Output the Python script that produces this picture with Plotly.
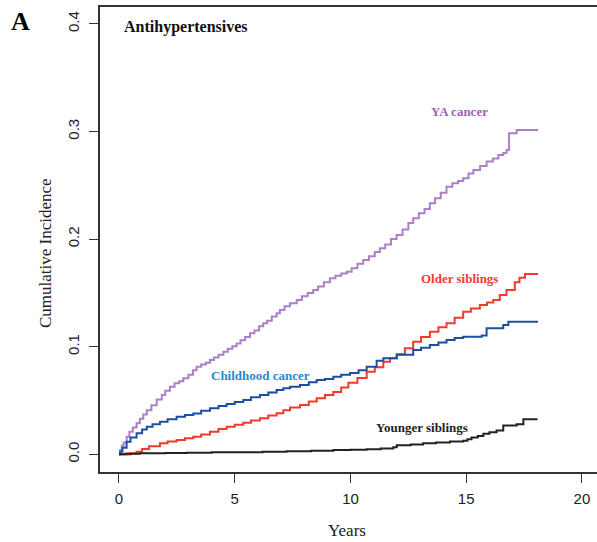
import plotly.graph_objects as go

# Cumulative incidence of antihypertensive use by cohort (step functions)
ya_years = [0, 0.05, 0.12, 0.2, 0.33, 0.45, 0.6, 0.76, 0.9, 1.05, 1.2, 1.4, 1.63, 1.85, 2.0,
            2.2, 2.4, 2.6, 2.78, 3.0, 3.2, 3.35, 3.55, 3.75, 3.93, 4.1, 4.3, 4.51, 4.7, 4.9,
            5.08, 5.25, 5.45, 5.66, 5.85, 6.05, 6.23, 6.4, 6.6, 6.81, 6.95, 7.15, 7.39, 7.68,
            7.9, 8.15, 8.39, 8.6, 8.85, 9.11, 9.35, 9.6, 9.84, 10.05, 10.3, 10.55, 10.8, 11.05,
            11.27, 11.5, 11.75, 11.99, 12.25, 12.5, 12.71, 12.95, 13.2, 13.43, 13.65, 13.9,
            14.15, 14.4, 14.65, 14.87, 15.1, 15.31, 15.6, 15.88, 16.15, 16.39, 16.6, 16.74,
            16.85, 17.18, 18.1]
ya_ci = [0, 0.004, 0.008, 0.011, 0.0164, 0.021, 0.025, 0.0288, 0.033, 0.037, 0.041, 0.0455,
         0.051, 0.055, 0.059, 0.0628, 0.066, 0.068, 0.0706, 0.074, 0.078, 0.0814, 0.0835, 0.085,
         0.0876, 0.09, 0.0925, 0.0954, 0.098, 0.1005, 0.103, 0.106, 0.109, 0.1125, 0.115, 0.119,
         0.1217, 0.124, 0.128, 0.131, 0.134, 0.1375, 0.1403, 0.1434, 0.147, 0.15, 0.1527, 0.156,
         0.16, 0.1636, 0.166, 0.168, 0.1697, 0.173, 0.177, 0.1806, 0.184, 0.188, 0.1915, 0.195,
         0.2, 0.2038, 0.209, 0.215, 0.2193, 0.224, 0.228, 0.2333, 0.238, 0.243, 0.2487, 0.252,
         0.254, 0.2565, 0.261, 0.2642, 0.268, 0.272, 0.275, 0.2782, 0.28, 0.2829, 0.2983,
         0.3014, 0.3014]

child_years = [0, 0.05, 0.15, 0.33, 0.5, 0.76, 1.0, 1.2, 1.45, 1.77, 2.1, 2.49, 2.85, 3.21,
               3.55, 3.93, 4.3, 4.65, 5.0, 5.37, 5.7, 6.09, 6.45, 6.81, 7.1, 7.39, 7.82, 8.2,
               8.54, 8.9, 9.26, 9.6, 9.98, 10.35, 10.7, 11.13, 11.42, 12.0, 12.71, 13.05, 13.43,
               13.8, 14.15, 14.5, 14.87, 15.67, 15.88, 16.6, 16.82, 18.1]
child_ci = [0, 0.0024, 0.006, 0.0117, 0.0155, 0.0195, 0.023, 0.0257, 0.028, 0.0303, 0.0325,
            0.035, 0.0365, 0.038, 0.0405, 0.0427, 0.045, 0.0467, 0.0485, 0.0505, 0.053, 0.0551,
            0.0575, 0.0598, 0.0613, 0.0628, 0.0644, 0.067, 0.069, 0.07, 0.0721, 0.074, 0.0755,
            0.078, 0.0814, 0.087, 0.0892, 0.0925, 0.097, 0.099, 0.1016, 0.104, 0.1062, 0.108,
            0.1093, 0.1105, 0.1171, 0.1202, 0.1232, 0.1232]

older_years = [0, 0.3, 0.76, 1.0, 1.3, 1.77, 2.1, 2.49, 2.85, 3.21, 3.55, 3.93, 4.3, 4.65, 5.0,
               5.37, 5.7, 6.09, 6.45, 6.81, 7.1, 7.39, 7.82, 8.2, 8.54, 8.9, 9.26, 9.6, 9.91,
               10.3, 10.7, 11.05, 11.42, 11.71, 12.0, 12.35, 12.71, 13.05, 13.43, 13.8, 14.15,
               14.5, 14.87, 15.2, 15.59, 15.9, 16.17, 16.45, 16.74, 17.1, 17.3, 17.54, 18.1]
older_ci = [0, 0.001, 0.0024, 0.005, 0.0075, 0.0102, 0.012, 0.0133, 0.015, 0.0164, 0.0185,
            0.021, 0.0235, 0.0257, 0.0275, 0.0294, 0.0315, 0.0335, 0.036, 0.0381, 0.041, 0.0435,
            0.0458, 0.049, 0.052, 0.055, 0.058, 0.062, 0.0665, 0.071, 0.0768, 0.081, 0.086,
            0.0892, 0.093, 0.0985, 0.1045, 0.109, 0.1139, 0.118, 0.1217, 0.127, 0.1325, 0.1355,
            0.1388, 0.141, 0.1434, 0.148, 0.1527, 0.16, 0.164, 0.1676, 0.1676]

younger_years = [0, 0.5, 0.9, 2.0, 2.92, 4.0, 5.23, 6.2, 7.24, 8.3, 9.26, 10.0, 10.7, 11.3,
                 11.85, 12.0, 12.6, 13.14, 13.7, 14.3, 14.87, 15.05, 15.23, 15.5, 15.74, 16.0,
                 16.31, 16.6, 17.18, 17.47, 18.08]
younger_ci = [0, 0.0005, 0.001, 0.0012, 0.0015, 0.0018, 0.002, 0.0024, 0.0028, 0.0034, 0.004,
              0.0042, 0.0046, 0.0055, 0.0065, 0.0084, 0.009, 0.0102, 0.011, 0.012, 0.0125,
              0.014, 0.0155, 0.017, 0.019, 0.0205, 0.0222, 0.0268, 0.028, 0.0325, 0.0325]

x_ticks = [0, 5, 10, 15, 20]
y_ticks = [0.0, 0.1, 0.2, 0.3, 0.4]
y_tick_text = ["0.0", "0.1", "0.2", "0.3", "0.4"]

series = [
    ("YA cancer", ya_years, ya_ci, "#ab80c8"),
    ("Older siblings", older_years, older_ci, "#f03a2a"),
    ("Childhood cancer", child_years, child_ci, "#1c4fa2"),
    ("Younger siblings", younger_years, younger_ci, "#222222"),
]

fig = go.Figure()
for name, t, ci, color in series:
    fig.add_trace(go.Scatter(x=t, y=ci, mode="lines", name=name, line_shape="hv",
                             line=dict(color=color, width=2)))

serif = "Liberation Serif, Times New Roman, serif"
sans = "Liberation Sans, Arial, sans-serif"

# Curve labels: (text, x, y, color)
labels = [
    ("YA cancer", 14.73, 0.319, "#9c62b4"),
    ("Older siblings", 14.7, 0.1636, "#f03c30"),
    ("Childhood cancer", 6.13, 0.0728, "#2a88cf"),
    ("Younger siblings", 13.11, 0.0249, "#222222"),
]
annotations = [
    dict(text=f"<b>{txt}</b>", x=x, y=y, xref="x", yref="y", showarrow=False,
         font=dict(family=serif, size=13, color=c), xanchor="center", yanchor="middle")
    for txt, x, y, c in labels
]
annotations += [
    dict(text="<b>Antihypertensives</b>", x=0.13, y=0.397, xref="x", yref="y", showarrow=False,
         font=dict(family=serif, size=16, color="#111"), xanchor="left", yanchor="middle"),
    dict(text="<b>A</b>", x=-0.16, y=0.968, xref="paper", yref="paper", showarrow=False,
         font=dict(family=serif, size=26, color="#000"), xanchor="center", yanchor="middle"),
    dict(text="Years", x=(347 - 100) / 497, y=(472 - 530) / 465, xref="paper", yref="paper",
         showarrow=False, font=dict(family=serif, size=17, color="#222"),
         xanchor="center", yanchor="middle"),
    dict(text="Cumulative Incidence", x=(45 - 100) / 497, y=(472 - 253) / 465, xref="paper",
         yref="paper", showarrow=False, textangle=-90,
         font=dict(family=serif, size=17, color="#222"), xanchor="center", yanchor="middle"),
]

fig.update_layout(
    width=597, height=542,
    margin=dict(l=100, r=0, t=7, b=70),
    plot_bgcolor="white", paper_bgcolor="white",
    showlegend=False,
    annotations=annotations,
    xaxis=dict(range=[-0.82, 20.65], tickvals=x_ticks, ticks="outside", ticklen=9,
               tickwidth=1.2, tickcolor="#333", showline=True, linecolor="#333", linewidth=1.5,
               mirror=True, showgrid=False, zeroline=False, ticklabelstandoff=3,
               tickfont=dict(family=sans, size=15, color="#222")),
    yaxis=dict(range=[-0.01645, 0.4157], tickvals=y_ticks, ticktext=y_tick_text,
               ticks="outside", ticklen=9, tickwidth=1.2, tickcolor="#333", showline=True,
               linecolor="#333", linewidth=1.5, showgrid=False, zeroline=False,
               ticklabelstandoff=4, tickangle=-90,
               tickfont=dict(family=sans, size=15, color="#222")),
)

fig.write_html("out.html")
